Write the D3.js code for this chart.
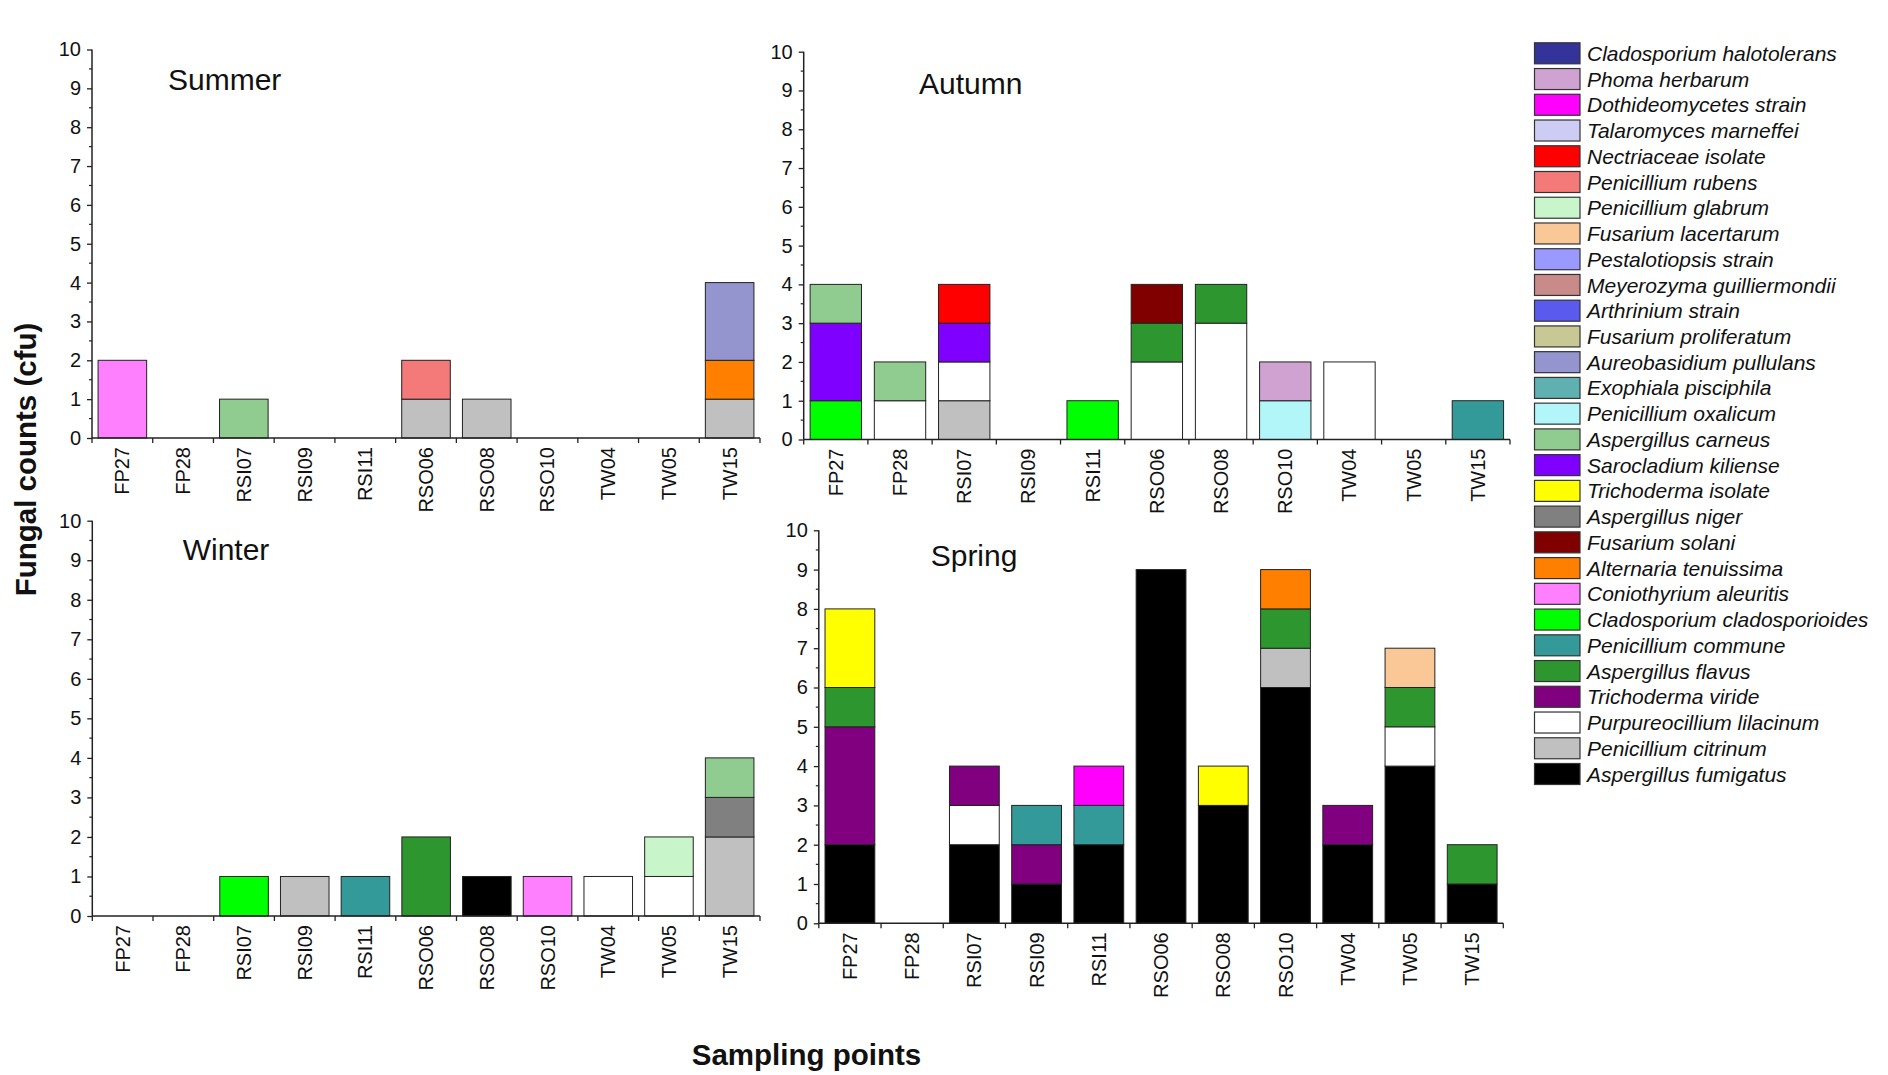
<!DOCTYPE html>
<html>
<head>
<meta charset="utf-8">
<script src="https://cdn.jsdelivr.net/npm/d3@7/dist/d3.min.js"></script>
<style>
  html, body { margin: 0; padding: 0; background: #fff; }
  svg { display: block; font-family: "Liberation Sans", Arial, sans-serif; }
</style>
</head>
<body>
<svg id="chart" width="1888" height="1075"></svg>
<script>
// ---------- DATA ----------
const sites = ["FP27","FP28","RSI07","RSI09","RSI11","RSO06","RSO08","RSO10","TW04","TW05","TW15"];

const species = [
  "Cladosporium halotolerans","Phoma herbarum","Dothideomycetes strain","Talaromyces marneffei",
  "Nectriaceae isolate","Penicillium rubens","Penicillium glabrum","Fusarium lacertarum",
  "Pestalotiopsis strain","Meyerozyma guilliermondii","Arthrinium strain","Fusarium proliferatum",
  "Aureobasidium pullulans","Exophiala pisciphila","Penicillium oxalicum","Aspergillus carneus",
  "Sarocladium kiliense","Trichoderma isolate","Aspergillus niger","Fusarium solani",
  "Alternaria tenuissima","Coniothyrium aleuritis","Cladosporium cladosporioides","Penicillium commune",
  "Aspergillus flavus","Trichoderma viride","Purpureocillium lilacinum","Penicillium citrinum",
  "Aspergillus fumigatus"
];

const speciesColors = [
  "#333399","#CFA2D2","#FF00FF","#CCCCF5",
  "#FF0000","#F47A7A","#C8F5CA","#F9C896",
  "#9999FF","#C98A8A","#5A5AEE","#C8C894",
  "#9494CF","#5FB0B0","#B3F6F9","#90CB90",
  "#8000FF","#FFFF00","#808080","#800000",
  "#FF8000","#FF80FF","#00FF00","#339999",
  "#2E962E","#800080","#FFFFFF","#C0C0C0",
  "#000000"
];

const yTicks = [0,1,2,3,4,5,6,7,8,9,10];

// [site, species, count]
const summerCounts = [
  ["FP27","Coniothyrium aleuritis",2],
  ["RSI07","Aspergillus carneus",1],
  ["RSO06","Penicillium citrinum",1],["RSO06","Penicillium rubens",1],
  ["RSO08","Penicillium citrinum",1],
  ["TW15","Penicillium citrinum",1],["TW15","Alternaria tenuissima",1],["TW15","Aureobasidium pullulans",2]
];

const autumnCounts = [
  ["FP27","Cladosporium cladosporioides",1],["FP27","Sarocladium kiliense",2],["FP27","Aspergillus carneus",1],
  ["FP28","Purpureocillium lilacinum",1],["FP28","Aspergillus carneus",1],
  ["RSI07","Penicillium citrinum",1],["RSI07","Purpureocillium lilacinum",1],["RSI07","Sarocladium kiliense",1],["RSI07","Nectriaceae isolate",1],
  ["RSI11","Cladosporium cladosporioides",1],
  ["RSO06","Purpureocillium lilacinum",2],["RSO06","Aspergillus flavus",1],["RSO06","Fusarium solani",1],
  ["RSO08","Purpureocillium lilacinum",3],["RSO08","Aspergillus flavus",1],
  ["RSO10","Penicillium oxalicum",1],["RSO10","Phoma herbarum",1],
  ["TW04","Purpureocillium lilacinum",2],
  ["TW15","Penicillium commune",1]
];

const winterCounts = [
  ["RSI07","Cladosporium cladosporioides",1],
  ["RSI09","Penicillium citrinum",1],
  ["RSI11","Penicillium commune",1],
  ["RSO06","Aspergillus flavus",2],
  ["RSO08","Aspergillus fumigatus",1],
  ["RSO10","Coniothyrium aleuritis",1],
  ["TW04","Purpureocillium lilacinum",1],
  ["TW05","Purpureocillium lilacinum",1],["TW05","Penicillium glabrum",1],
  ["TW15","Penicillium citrinum",2],["TW15","Aspergillus niger",1],["TW15","Aspergillus carneus",1]
];

const springCounts = [
  ["FP27","Aspergillus fumigatus",2],["FP27","Trichoderma viride",3],["FP27","Aspergillus flavus",1],["FP27","Trichoderma isolate",2],
  ["RSI07","Aspergillus fumigatus",2],["RSI07","Purpureocillium lilacinum",1],["RSI07","Trichoderma viride",1],
  ["RSI09","Aspergillus fumigatus",1],["RSI09","Trichoderma viride",1],["RSI09","Penicillium commune",1],
  ["RSI11","Aspergillus fumigatus",2],["RSI11","Penicillium commune",1],["RSI11","Dothideomycetes strain",1],
  ["RSO06","Aspergillus fumigatus",9],
  ["RSO08","Aspergillus fumigatus",3],["RSO08","Trichoderma isolate",1],
  ["RSO10","Aspergillus fumigatus",6],["RSO10","Penicillium citrinum",1],["RSO10","Aspergillus flavus",1],["RSO10","Alternaria tenuissima",1],
  ["TW04","Aspergillus fumigatus",2],["TW04","Trichoderma viride",1],
  ["TW05","Aspergillus fumigatus",4],["TW05","Purpureocillium lilacinum",1],["TW05","Aspergillus flavus",1],["TW05","Fusarium lacertarum",1],
  ["TW15","Aspergillus fumigatus",1],["TW15","Aspergillus flavus",1]
];

const seasonNames = ["Summer","Autumn","Winter","Spring"];
const seasonData = [summerCounts, autumnCounts, winterCounts, springCounts];

// ---------- LAYOUT ----------
const panels = [
  { x0: 92,    x1: 760,    y0: 438,   y1: 49.5,  tx: 168,   ty: 90 },
  { x0: 803.7, x1: 1510,   y0: 439.5, y1: 51.7,  tx: 919,   ty: 94 },
  { x0: 92.3,  x1: 760,    y0: 916,   y1: 520.7, tx: 182.7, ty: 560 },
  { x0: 818.8, x1: 1503.3, y0: 923.3, y1: 530.3, tx: 930.7, ty: 565.7 }
];

const svg = d3.select("#chart");
svg.append("rect").attr("width",1888).attr("height",1075).attr("fill","#fff");

const color = d3.scaleOrdinal().domain(species).range(speciesColors);
const stackKeys = species.slice().reverse(); // bottom of stack = last legend item

seasonData.forEach((records, pi) => {
  const p = panels[pi];
  const table = sites.map(s => {
    const row = { site: s };
    species.forEach(sp => row[sp] = 0);
    records.filter(r => r[0] === s).forEach(r => row[r[1]] += r[2]);
    return row;
  });
  const series = d3.stack().keys(stackKeys)(table);

  const x = d3.scaleBand().domain(sites).range([p.x0, p.x1]).paddingInner(0.2).paddingOuter(0.1);
  const y = d3.scaleLinear().domain([0, 10]).range([p.y0, p.y1]);
  const g = svg.append("g");

  // bars
  series.forEach(s => {
    g.append("g").selectAll("rect")
      .data(s.filter(d => d[1] - d[0] > 0))
      .join("rect")
      .attr("x", d => x(d.data.site))
      .attr("width", x.bandwidth())
      .attr("y", d => y(d[1]))
      .attr("height", d => y(d[0]) - y(d[1]))
      .attr("fill", color(s.key))
      .attr("stroke", "#222")
      .attr("stroke-width", 1);
  });

  // y axis
  const yAxis = d3.axisLeft(y).tickValues(yTicks).tickFormat(d3.format("d")).tickSize(5).tickPadding(6);
  const ya = g.append("g").attr("transform", `translate(${p.x0},0)`).call(yAxis);
  ya.select(".domain").attr("stroke","#222").attr("stroke-width",1.5).attr("d", `M0,${p.y0}V${p.y1}`);
  ya.selectAll(".tick line").attr("stroke","#222").attr("stroke-width",1.3);
  ya.selectAll(".tick text").attr("font-size", 20).attr("fill","#111").attr("font-family","Liberation Sans, Arial, sans-serif");
  // minor ticks
  const minor = d3.range(0.5, 10, 1);
  g.append("g").selectAll("line").data(minor).join("line")
    .attr("x1", p.x0 - 3).attr("x2", p.x0)
    .attr("y1", d => y(d)).attr("y2", d => y(d))
    .attr("stroke","#222").attr("stroke-width",1.2);

  // x axis
  const xa = g.append("g").attr("transform", `translate(0,${p.y0})`);
  xa.append("line").attr("x1", p.x0).attr("x2", p.x1).attr("y1",0).attr("y2",0)
    .attr("stroke","#222").attr("stroke-width",1.5);
  const boundaries = d3.range(sites.length + 1).map(i => p.x0 + i * x.step());
  xa.selectAll("line.tk").data(boundaries).join("line").attr("class","tk")
    .attr("x1", d => d).attr("x2", d => d).attr("y1", 0).attr("y2", 5)
    .attr("stroke","#222").attr("stroke-width",1.3);
  xa.selectAll("text").data(sites).join("text")
    .attr("transform", d => `translate(${x(d) + x.bandwidth()/2},9) rotate(-90)`)
    .attr("text-anchor","end")
    .attr("dy","0.35em")
    .attr("font-size", 20)
    .attr("fill","#111")
    .text(d => d);

  // title
  g.append("text").attr("x", p.tx).attr("y", p.ty)
    .attr("font-size", 30).attr("fill","#111")
    .text(seasonNames[pi]);
});

// axis titles
svg.append("text")
  .attr("transform","translate(36,459.5) rotate(-90)")
  .attr("text-anchor","middle")
  .attr("font-size", 29.5).attr("font-weight","bold").attr("fill","#111")
  .text("Fungal counts (cfu)");

svg.append("text")
  .attr("x", 806.5).attr("y", 1065)
  .attr("text-anchor","middle")
  .attr("font-size", 29.5).attr("font-weight","bold").attr("fill","#111")
  .text("Sampling points");

// legend
const legend = svg.append("g");
const ly = d3.scaleLinear().domain([0, species.length - 1]).range([53.3, 774]);
const items = legend.selectAll("g").data(species).join("g")
  .attr("transform", (d, i) => `translate(0,${ly(i)})`);
items.append("rect")
  .attr("x", 1534.5).attr("y", -10.5).attr("width", 45.5).attr("height", 21)
  .attr("fill", d => color(d)).attr("stroke","#333").attr("stroke-width",1.2);
items.append("text")
  .attr("x", 1587).attr("y", 0).attr("dy","0.36em")
  .attr("font-size", 21).attr("font-style","italic").attr("fill","#111")
  .text(d => d);
</script>
</body>
</html>
